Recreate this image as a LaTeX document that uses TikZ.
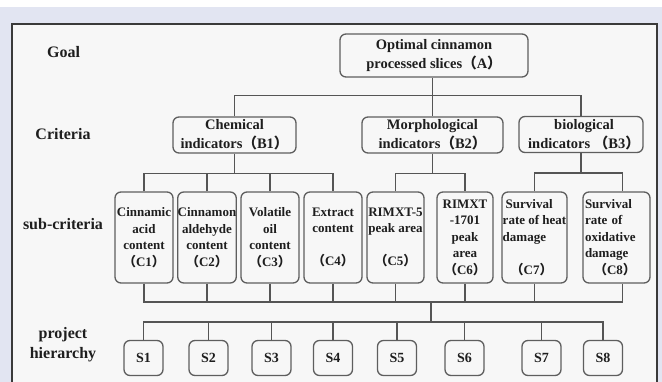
\documentclass[tikz,border=0pt]{standalone}
\usepackage{fontspec}
\setmainfont{Liberation Serif}
\newfontfamily\cjk{Noto Sans CJK SC}
\newcommand{\flp}{{\cjk （}}
\newcommand{\frp}{{\cjk ）}}
\definecolor{bglav}{HTML}{E2E5F2}
\definecolor{panel}{HTML}{F7F7F7}
\definecolor{framec}{HTML}{3A3A3A}
\definecolor{boxc}{HTML}{5E5E5E}
\definecolor{linec}{HTML}{555555}
\definecolor{txt}{HTML}{1E1E1E}
\begin{document}
\begin{tikzpicture}[x=1pt,y=-1pt,
  box/.style={draw=boxc, line width=1.3pt, rounded corners=6pt, fill=panel, inner sep=0pt, text=txt, align=center},
  cbox/.style={box, minimum height=91pt, font=\bfseries\fontsize{13}{16.5}\selectfont},
  bbox/.style={box, minimum height=36pt, font=\bfseries\fontsize{14.5}{19}\selectfont},
  sbox/.style={box, minimum width=39pt, minimum height=35pt, font=\bfseries\fontsize{14}{16}\selectfont},
  lab/.style={text=txt, font=\bfseries\fontsize{16}{20}\selectfont, align=center, inner sep=0pt},
  conn/.style={draw=linec, line width=1.4pt}]
\clip (0,0) rectangle (662,382);
\fill[white] (0,0) rectangle (662,382);
\fill[bglav] (0,7) rectangle (662,382);
\draw[framec, line width=1.2pt, fill=panel] (12,24) rectangle (657,400);

% level labels
\node[lab] (lgoal) at (63.5,52) {Goal};
\node[lab] (lcrit) at (63,134) {Criteria};
\node[lab] (lsub) at (63,224) {sub-criteria};
\node[lab] (lproj) at (63,345) {project\\hierarchy};

% goal
\node[bbox, minimum width=188pt, minimum height=43pt] (A) at (434,55.5) {Optimal cinnamon\\processed slices\flp A\frp};

% criteria
\node[bbox, minimum width=123pt] (B1) at (234.5,135) {Chemical\\indicators\flp B1\frp};
\node[bbox, minimum width=141pt] (B2) at (432.5,135) {Morphological\\indicators\flp B2\frp};
\node[bbox, minimum width=124pt] (B3) at (581,134.5) {\hspace*{6pt}biological\\\hspace*{6pt}indicators \flp B3\frp};

% sub-criteria
\node[cbox, minimum width=58pt] (C1) at (144,237.5) {Cinnamic\\acid\\content\\\flp C1\frp};
\node[cbox, minimum width=58pt] (C2) at (207,237.5) {Cinnamon\\aldehyde\\content\\\flp C2\frp};
\node[cbox, minimum width=58pt] (C3) at (270,237.5) {Volatile\\oil\\content\\\flp C3\frp};
\node[cbox, minimum width=58pt] (C4) at (333,237.5) {Extract\\content\\~\\\flp C4\frp};
\node[cbox, minimum width=57pt] (C5) at (395.5,237.5) {RIMXT-5\\peak area\\~\\\flp C5\frp};
\node[cbox, minimum width=56pt] (C6) at (465,237.5) {RIMXT\\-1701\\peak\\area\\\flp C6\frp};
\node[cbox, minimum width=65pt, align=left] (C7) at (534.5,237.5) {\hspace*{3pt}Survival\\rate of heat\\damage\\~\\\hspace*{8pt}\flp C7\frp};
\node[cbox, minimum width=67pt, text width=63pt, align=left] (C8) at (616.5,237.5) {Survival\\rate of\\oxidative\\damage\\\hspace*{9pt}\flp C8\frp};

% alternatives
\node[sbox] (S1) at (143.5,358) {S1};
\node[sbox] (S2) at (208.5,358) {S2};
\node[sbox] (S3) at (271.5,358) {S3};
\node[sbox] (S4) at (333,358) {S4};
\node[sbox] (S5) at (397,358) {S5};
\node[sbox] (S6) at (464.5,358) {S6};
\node[sbox] (S7) at (541.5,358) {S7};
\node[sbox] (S8) at (603,358) {S8};

% goal -> criteria
\draw[conn] (A.south -| B2.north) -- (B2.north);
\draw[conn] (B1.north) -- ++(0,-21) -| (B3.north);

% criteria -> sub-criteria
\path (B1.south) ++(0,20) coordinate (j1);
\path (B2.south) ++(0,20) coordinate (j2);
\path (B3.south) ++(0,20) coordinate (j3);
\draw[conn] (B1.south) -- (j1);
\draw[conn] (B2.south) -- (j2);
\draw[conn] (B3.south) -- (j3);
\draw[conn] (C1.north) |- (j1) -| (C4.north);
\draw[conn] (C2.north) -- (C2.north |- j1);
\draw[conn] (C3.north) -- (C3.north |- j1);
\draw[conn] (C5.north) |- (j2) -| (C6.north);
\draw[conn] (C7.north) |- (j3) -| ([xshift=6pt]C8.north);

% sub-criteria -> alternatives
\coordinate (cj) at (431,302);
\coordinate (sj) at (431,322);
\draw[conn] (C1.south) |- (cj) -| ([xshift=6pt]C8.south);
\foreach \c in {C2,C3,C4,C5,C6,C7} {\draw[conn] (\c.south) -- (\c.south |- cj);}
\draw[conn] (cj) -- (sj);
\draw[conn] (S1.north) |- (sj) -| (S8.north);
\foreach \s in {S2,S3,S4,S5,S6,S7} {\draw[conn] (\s.north) -- (\s.north |- sj);}
\end{tikzpicture}
\end{document}
